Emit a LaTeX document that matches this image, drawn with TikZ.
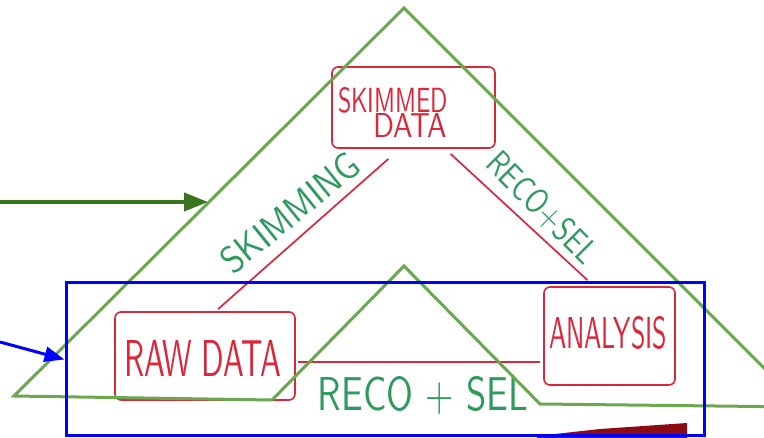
\documentclass[tikz,border=0pt]{standalone}
\usepackage{graphicx}
\usetikzlibrary{arrows.meta,calc}
\definecolor{hred}{HTML}{D8283A}
\definecolor{hgreen}{HTML}{2E9A5C}
\definecolor{tri}{HTML}{6AA84F}
\definecolor{darr}{HTML}{38761D}
\definecolor{wedgecol}{HTML}{8B0A14}
\newcommand{\hw}[3]{\resizebox{#1pt}{#2pt}{\sffamily #3}}
\begin{document}
\begin{tikzpicture}[x=1pt,y=-1pt,
  hbox/.style={draw=hred, line width=1.6pt, rounded corners=6pt, inner sep=0pt},
  htext/.style={text=hred, inner sep=0pt},
  glabel/.style={text=hgreen, inner sep=0pt},
  redline/.style={draw=hred, line width=1.7pt},
  triline/.style={draw=tri, line width=3pt, line join=miter},
  bluebox/.style={draw=blue, line width=3pt, inner sep=0pt},
  bluearrow/.style={draw=blue, line width=3pt, -{Triangle[length=20pt,width=15pt]}},
  greenarrow/.style={draw=darr, line width=4pt, -{Triangle[length=24pt,width=18pt]}}
]
\useasboundingbox (0,0) rectangle (764,438);
\clip (0,0) rectangle (764,438);

% hand-drawn sketch
\node[hbox, minimum width=163pt, minimum height=81pt] (skim) at (413.5,107.5) {};
\node[hbox, minimum width=180pt, minimum height=88pt] (raw) at (205,356) {};
\node[hbox, minimum width=131pt, minimum height=98pt] (ana) at (609.5,336) {};

\node[htext] (skimA) at (393,100) {\hw{110}{25}{SKIMMED}};
\node[htext] (skimB) at (410,126) {\hw{74}{24}{DATA}};
\node[htext] (rawt) at (203,358) {\hw{157}{36}{RAW DATA}};
\node[htext] (anat) at (608,333) {\hw{118}{32}{ANALYSIS}};

\draw[redline] ($(skim.south)+(-25,10)$) -- ($(raw.north)+(13,-2)$);
\draw[redline] ($(skim.south)+(37,5)$) -- ($(ana.north)+(-22,-6)$);
\draw[redline] ($(raw.east)+(2,6)$) -- ($(ana.west)+(-3,26)$);

\node[glabel, rotate=39] (lskim) at (290,213) {\hw{167}{27}{SKIMMING}};
\node[glabel, rotate=-45] (lreco1) at (542,208) {\hw{141}{25}{RECO+SEL}};
\node[glabel] (lreco2) at (423,395) {\hw{210}{34}{RECO + SEL}};

\fill[wedgecol] (537,436) -- (600,429) -- (687,423) -- (687,438) -- (537,438) -- cycle;

% overlay annotations
\draw[triline] (14,396) -- (404,8) -- (803,407) -- (540,404) -- (404,266) -- (272,400) -- cycle;

\node[bluebox, minimum width=638pt, minimum height=153pt] (hl) at (385,359.5) {};

\coordinate (bstart) at (0,342);
\draw[bluearrow] (bstart) -- (hl.west);

\coordinate (gstart) at (0,202);
\coordinate (gend) at (208,202);
\draw[greenarrow] (gstart) -- (gend);
\end{tikzpicture}
\end{document}
